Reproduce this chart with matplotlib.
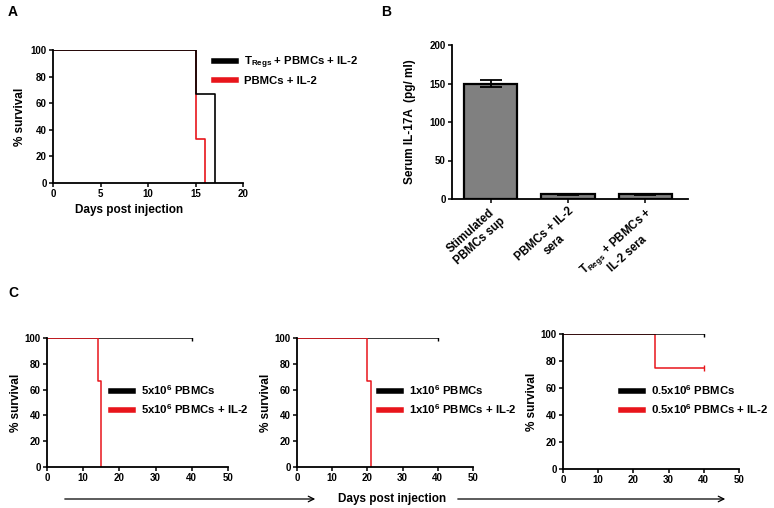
import matplotlib.pyplot as plt
from matplotlib.lines import Line2D
from matplotlib.patches import FancyArrowPatch

plt.rcParams['font.family'] = ['Liberation Sans', 'DejaVu Sans']
plt.rcParams['font.weight'] = 'bold'
plt.rcParams['axes.labelweight'] = 'bold'

# Panel A: survival curves
a_days_tregs = [0, 15, 17]
a_surv_tregs = [100, 66.7, 0]
a_days_pbmc = [0, 15, 16]
a_surv_pbmc = [100, 33.3, 0]
a_labels = ['T$_{\\mathregular{Regs}}$ + PBMCs + IL-2', 'PBMCs + IL-2']

# Panel B: serum IL-17A
b_groups = ['Stimulated\nPBMCs sup', 'PBMCs + IL-2\nsera',
            'T$_{\\mathregular{Regs}}$ + PBMCs +\nIL-2 sera']
b_values = [150, 6, 6]
b_errors = [4, 0.5, 1]

# Panel C: survival for three cell doses
c_doses = ['5x10$^{\\mathregular{6}}$', '1x10$^{\\mathregular{6}}$', '0.5x10$^{\\mathregular{6}}$']
c_days_ctrl = [[0, 40], [0, 40], [0, 40]]
c_surv_ctrl = [[100, 100], [100, 100], [100, 100]]
c_days_il2 = [[0, 14, 15], [0, 20, 21], [0, 26, 40]]
c_surv_il2 = [[100, 66.7, 0], [100, 66.7, 0], [100, 75, 75]]

W, H = 774, 508
fig = plt.figure(figsize=(W / 100, H / 100), dpi=100)

RED = '#e8151b'
TICK_FS = 7
LAB_FS = 8.5
LEG_FS = 8.2


def box(x0, y_top, x1, y_bot):
    return [x0 / W, 1 - y_bot / H, (x1 - x0) / W, (y_bot - y_top) / H]


def style(ax):
    for s in ['top', 'right']:
        ax.spines[s].set_visible(False)
    for s in ['left', 'bottom']:
        ax.spines[s].set_linewidth(1.3)
    ax.tick_params(labelsize=TICK_FS, width=1.1, length=3, pad=1.5)
    for t in ax.get_xticklabels() + ax.get_yticklabels():
        t.set_fontweight('bold')


def legend(ax, labels, x, y):
    handles = [Line2D([], [], color='black', lw=4), Line2D([], [], color=RED, lw=4)]
    ax.legend(handles, labels, loc='upper left', bbox_to_anchor=(x / W, 1 - y / H),
              bbox_transform=fig.transFigure, frameon=False, handlelength=1.9,
              handletextpad=0.75, labelspacing=0.5, borderpad=0.3,
              prop={'size': LEG_FS, 'weight': 'bold'})


# ---- A ----
axA = fig.add_axes(box(53, 50, 243, 183))
axA.step(a_days_pbmc, a_surv_pbmc, where='post', color=RED, lw=1.2)
axA.step(a_days_tregs, a_surv_tregs, where='post', color='black', lw=1.2)
axA.set_xlim(0, 20)
axA.set_ylim(0, 100)
axA.set_xticks([0, 5, 10, 15, 20])
axA.set_yticks([0, 20, 40, 60, 80, 100])
axA.set_ylabel('% survival', fontsize=LAB_FS, labelpad=3)
axA.set_xlabel('Days post injection', fontsize=LAB_FS)
axA.xaxis.set_label_coords(0.40, -0.16)
style(axA)
legend(axA, a_labels, 205, 45)
fig.text(8 / W, 1 - 12 / H, 'A', fontsize=10, fontweight='bold', va='center')

# ---- B ----
axB = fig.add_axes(box(452, 45, 688, 199))
xb = range(len(b_values))
axB.bar(xb, b_values, width=0.69, color='#808080', edgecolor='black', linewidth=1.6,
        yerr=b_errors, error_kw=dict(ecolor='black', elinewidth=1.3, capsize=8, capthick=1.3))
axB.set_xlim(-0.5, 2.55)
axB.set_ylim(0, 200)
axB.set_yticks([0, 50, 100, 150, 200])
axB.set_xticks(list(xb))
axB.set_xticklabels(b_groups, rotation=42, ha='right', rotation_mode='anchor',
                    multialignment='center')
axB.set_ylabel('Serum IL-17A  (pg/ ml)', fontsize=LAB_FS, labelpad=10)
style(axB)
for t in axB.get_xticklabels():
    t.set_fontsize(8.3)
fig.text(381 / W, 1 - 12 / H, 'B', fontsize=10, fontweight='bold', va='center')

# ---- C ----
c_boxes = [box(47, 338, 228, 467), box(297, 338, 473, 467), box(563, 334, 739, 469)]
c_leg_x = [102, 370, 612]
for i in range(3):
    ax = fig.add_axes(c_boxes[i])
    if i < 2:
        ax.step(c_days_ctrl[i], c_surv_ctrl[i], where='post', color='black', lw=1.1)
        ax.step(c_days_il2[i], c_surv_il2[i], where='post', color=RED, lw=1.1)
    else:
        ax.step(c_days_il2[i], c_surv_il2[i], where='post', color=RED, lw=1.1)
        ax.step(c_days_ctrl[i], c_surv_ctrl[i], where='post', color='black', lw=1.1)
    ax.plot(c_days_ctrl[i][-1], c_surv_ctrl[i][-1], marker='|', color='black', ms=4, mew=1)
    if c_surv_il2[i][-1] > 0:
        ax.plot(c_days_il2[i][-1], c_surv_il2[i][-1], marker='|', color=RED, ms=4, mew=1)
    ax.set_xlim(0, 50)
    ax.set_ylim(0, 100)
    ax.set_xticks([0, 10, 20, 30, 40, 50])
    ax.set_yticks([0, 20, 40, 60, 80, 100])
    ax.set_ylabel('% survival', fontsize=LAB_FS, labelpad=2)
    style(ax)
    legend(ax, [c_doses[i] + ' PBMCs', c_doses[i] + ' PBMCs + IL-2'], c_leg_x[i], 374)
fig.text(8 / W, 1 - 293 / H, 'C', fontsize=10, fontweight='bold', va='center')

# shared x label with arrows
fig.text(392 / W, 1 - 499 / H, 'Days post injection', fontsize=LAB_FS, fontweight='bold',
         ha='center', va='center')
for x0, x1 in [(62, 318), (455, 728)]:
    fig.add_artist(FancyArrowPatch((x0 / W, 1 - 499 / H), (x1 / W, 1 - 499 / H),
                                   transform=fig.transFigure, arrowstyle='->',
                                   mutation_scale=10, lw=0.9, color='black'))

fig.savefig('out.png', dpi=100)
